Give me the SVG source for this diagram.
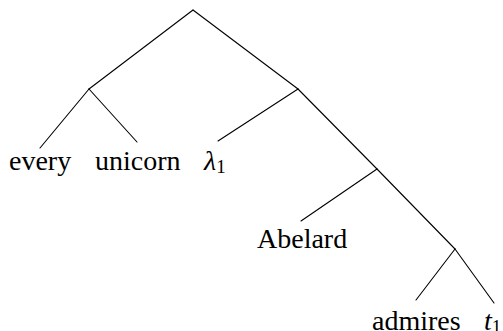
<svg xmlns="http://www.w3.org/2000/svg" width="503" height="331" viewBox="0 0 503 331">
<style>
.e{stroke:#000;stroke-width:1.1;fill:none;stroke-linecap:round}
text{font-family:'Liberation Serif','Times New Roman','DejaVu Serif',serif;font-size:28px;fill:#000}
.s{font-size:19px}
</style>
<rect width="503" height="331" fill="#fff"/>
<g id="connectors">
<line class="e" x1="193" y1="10" x2="89" y2="89"/>
<line class="e" x1="193" y1="10" x2="298" y2="89"/>
<line class="e" x1="89" y1="89" x2="40" y2="148"/>
<line class="e" x1="89" y1="89" x2="137" y2="142"/>
<line class="e" x1="298" y1="89" x2="218" y2="141"/>
<line class="e" x1="298" y1="89" x2="377" y2="169"/>
<line class="e" x1="377" y1="169" x2="301" y2="221"/>
<line class="e" x1="377" y1="169" x2="455" y2="249"/>
<line class="e" x1="455" y1="249" x2="416" y2="300"/>
<line class="e" x1="455" y1="249" x2="494" y2="303"/>
</g>
<g id="every"><text x="9" y="170" font-family="Liberation Serif, serif">every</text></g>
<g id="unicorn"><text x="95" y="170" font-family="Liberation Serif, serif">unicorn</text></g>
<g id="lambda1"><text x="204" y="170" font-family="Liberation Serif, serif"><tspan font-style="italic">λ</tspan><tspan class="s" dy="3">1</tspan></text></g>
<g id="abelard"><text x="257" y="248" font-family="Liberation Serif, serif">Abelard</text></g>
<g id="admires"><text x="372" y="330" font-family="Liberation Serif, serif">admires</text></g>
<g id="t1"><text x="484" y="330" font-family="Liberation Serif, serif"><tspan font-style="italic">t</tspan><tspan class="s" dy="3">1</tspan></text></g>
</svg>
